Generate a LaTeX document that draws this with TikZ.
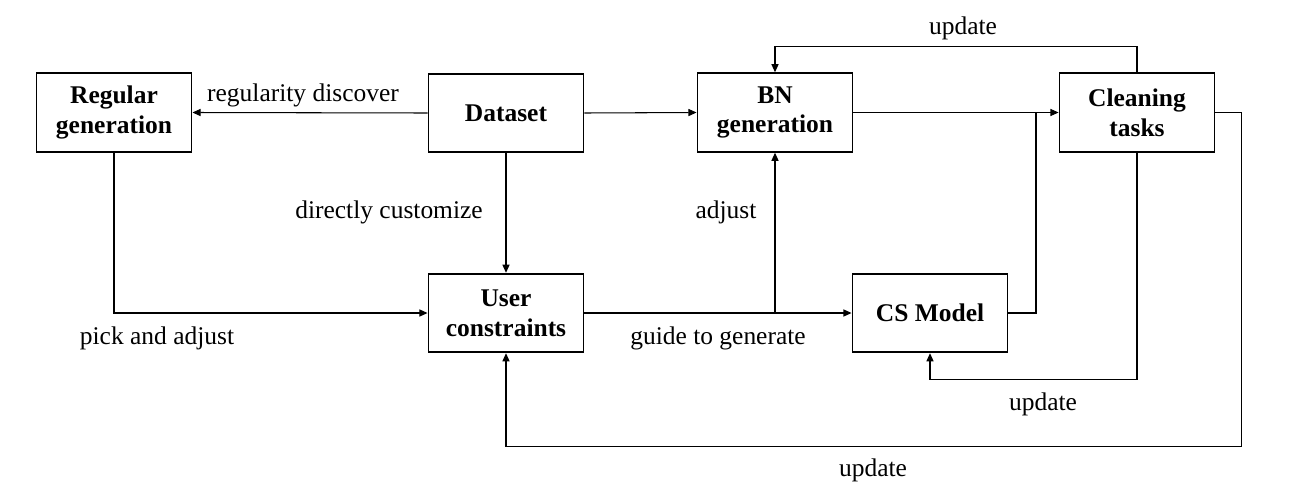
\documentclass[tikz,border=0pt]{standalone}
\usepackage{fontspec}
\setmainfont{Liberation Serif}
\usepackage{tikz}
\usetikzlibrary{arrows.meta,positioning,calc}
\definecolor{ink}{HTML}{000000}
\tikzset{
    every picture/.style={line join=miter},
    procbox/.style={draw=ink,fill=white,line width=1.1pt,
      minimum width=3.1cm,minimum height=1.57cm,inner sep=2pt,
      font=\fontsize{14.5}{17}\selectfont\bfseries,align=center},
    plainline/.style={draw=ink,line width=0.6pt},
    flowarrow/.style={plainline,-{Triangle[length=4.6pt,width=4pt]}},
    edgelabel/.style={inner sep=0pt,text=ink,
      font=\fontsize{14.5}{17}\selectfont,align=center}
}
\begin{document}
\begin{tikzpicture}[x=0.02cm,y=-0.02cm]
  \useasboundingbox (0,0) rectangle (1299,504);
  % boxes
  \node[procbox] (reg) at (114,112.5) {Regular\\generation};
  \node[procbox] (data) at (506,113) {Dataset};
  \node[procbox] (bn) at (775,112.5) {BN\\generation};
  \node[procbox] (clean) at (1137,112.5) {Cleaning\\tasks};
  \node[procbox] (user) at (506,313) {User\\constraints};
  \node[procbox] (cs) at (930,313) {CS Model};
  \coordinate (split) at (775,313);
  \coordinate (join) at (1036,113);
  % connectors
  \draw[flowarrow] (data.west) -- (reg.east);
  \draw[flowarrow] (data.east) -- (bn.west);
  \draw[flowarrow] (data.south) -- (user.north);
  \draw[flowarrow] (reg.south) |- (user.west);
  \draw[flowarrow] (user.east) -- (cs.west);
  \draw[flowarrow] (split) -- (bn.south);
  \draw[flowarrow] (bn.east) -- (clean.west);
  \draw[plainline] (cs.east) -| (join);
  \draw[flowarrow] (clean.north) -- ++(0,-26) -| (bn.north);
  \draw[flowarrow] (clean.south) -- ++(0,227) -| (cs.south);
  \draw[flowarrow] (clean.east) -- ++(26,0) -- ++(0,334) -| (user.south);
  % labels
  \node[edgelabel] (lregdisc) at (303,95) {regularity discover};
  \node[edgelabel] (lcustom) at (389,212) {directly customize};
  \node[edgelabel] (lpick) at (157,338) {pick and adjust};
  \node[edgelabel] (lguide) at (718,338) {guide to generate};
  \node[edgelabel] (ladjust) at (726,212) {adjust};
  \node[edgelabel] (lupdbn) at (963,28) {update};
  \node[edgelabel] (lupdcs) at (1043,404) {update};
  \node[edgelabel] (lupduser) at (873,470) {update};
\end{tikzpicture}
\end{document}
